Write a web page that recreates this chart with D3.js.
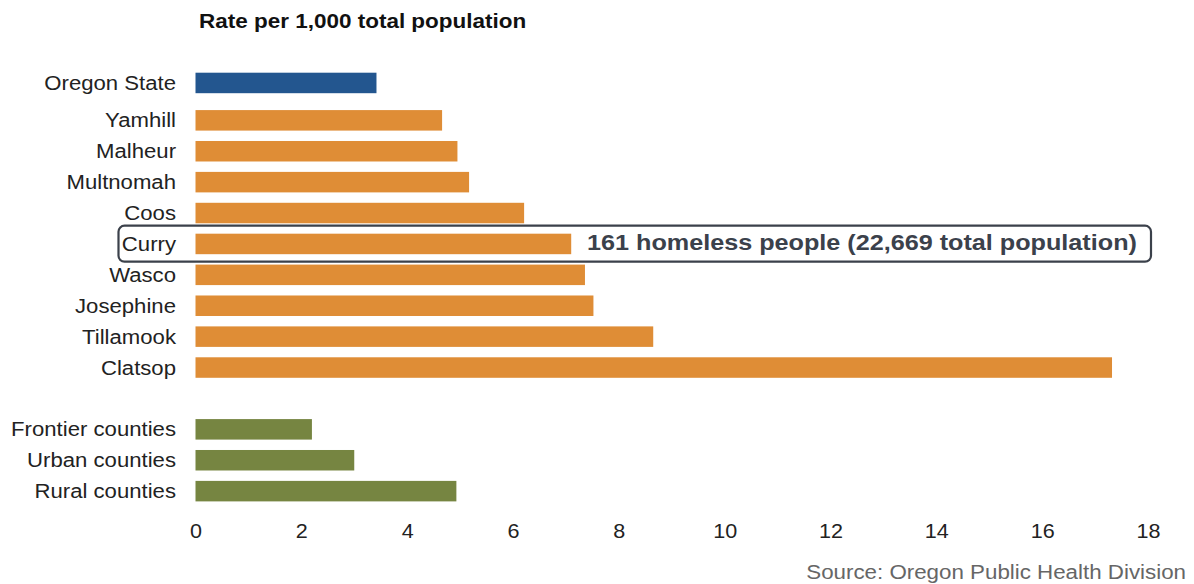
<!DOCTYPE html>
<html>
<head>
<meta charset="utf-8">
<script src="https://cdn.jsdelivr.net/npm/d3@7"></script>
<style>
  html, body { margin: 0; padding: 0; background: #fff; }
  svg text { font-family: "Liberation Sans", Arial, sans-serif; }
</style>
</head>
<body>
<svg id="chart" width="1194" height="584"></svg>
<script>
// Homelessness rate per 1,000 total population
const stateNames = ["Oregon State"];
const stateValues = [3.42];

const countyNames = ["Yamhill", "Malheur", "Multnomah", "Coos", "Curry", "Wasco", "Josephine", "Tillamook", "Clatsop"];
const countyValues = [4.66, 4.95, 5.17, 6.21, 7.10, 7.36, 7.52, 8.65, 17.32];

const typeNames = ["Frontier counties", "Urban counties", "Rural counties"];
const typeValues = [2.20, 3.00, 4.93];

const xTicks = [0, 2, 4, 6, 8, 10, 12, 14, 16, 18];

const calloutName = "Curry";
const calloutText = "161 homeless people (22,669 total population)";

const titleText = "Rate per 1,000 total population";
const sourceText = "Source: Oregon Public Health Division";

// Groups stacked top to bottom, with the extra gap (in rows) before each group
const groups = [
  { names: stateNames, values: stateValues, color: "#23568f", gapBefore: 0 },
  { names: countyNames, values: countyValues, color: "#df8d36", gapBefore: 0.21 },
  { names: typeNames, values: typeValues, color: "#768541", gapBefore: 1 }
];

const rows = [];
let slot = 0;
groups.forEach((g, gi) => {
  if (gi > 0) slot += 1 + g.gapBefore;
  g.names.forEach((n, i) => {
    if (i > 0) slot += 1;
    rows.push({ name: n, value: g.values[i], color: g.color, slot });
  });
});

const svg = d3.select("#chart");

const x = d3.scaleLinear().domain([0, 18]).range([195.5, 1148]);
const rowStep = 30.9;
const barH = 20.5;
const y = d3.scaleLinear().domain([0, 1]).range([72.7, 72.7 + rowStep]);

function stretchedText(sel, px, py, sx) {
  return sel.attr("transform", `translate(${px},${py}) scale(${sx},1)`);
}

// Title
stretchedText(svg.append("text"), 199, 28, 1.125)
  .attr("font-size", 20)
  .attr("font-weight", "bold")
  .attr("fill", "#111")
  .text(titleText);

// Callout box around the Curry row
const cRow = rows.find(r => r.name === calloutName);
svg.append("rect")
  .attr("x", 118.5)
  .attr("y", y(cRow.slot) - 8)
  .attr("width", 1151 - 118.5)
  .attr("height", barH + 15.5)
  .attr("rx", 6)
  .attr("fill", "#fff")
  .attr("stroke", "#3b414b")
  .attr("stroke-width", 2.2);

// Bars
svg.append("g").selectAll("rect")
  .data(rows)
  .join("rect")
  .attr("x", x(0))
  .attr("y", d => y(d.slot))
  .attr("width", d => x(d.value) - x(0))
  .attr("height", barH)
  .attr("fill", d => d.color);

// Category labels
svg.append("g").selectAll("text")
  .data(rows)
  .join("text")
  .each(function (d) {
    stretchedText(d3.select(this), 176, y(d.slot) + barH / 2, 1.13);
  })
  .attr("text-anchor", "end")
  .attr("dominant-baseline", "central")
  .attr("font-size", 19.6)
  .attr("fill", "#222")
  .text(d => d.name);

// Callout text
stretchedText(svg.append("text"), 587, y(cRow.slot) + barH / 2 - 2, 1.1)
  .attr("dominant-baseline", "central")
  .attr("font-family", "Roboto, 'Liberation Sans', sans-serif")
  .attr("font-size", 22.9)
  .attr("font-weight", "bold")
  .attr("fill", "#3b414b")
  .text(calloutText);

// X axis (labels only)
const axis = d3.axisBottom(x).tickValues(xTicks).tickSize(0).tickPadding(0);
const ax = svg.append("g").attr("transform", "translate(0,527)").call(axis);
ax.select(".domain").remove();
ax.selectAll(".tick text")
  .attr("font-family", "'Liberation Sans', Arial, sans-serif")
  .attr("font-size", 19.6)
  .attr("fill", "#222")
  .attr("dy", "0.55em")
  .attr("transform", "scale(1.1,1)");

// Source
stretchedText(svg.append("text"), 1186, 572, 1.14)
  .attr("text-anchor", "end")
  .attr("dominant-baseline", "central")
  .attr("font-size", 19.6)
  .attr("fill", "#666")
  .text(sourceText);
</script>
</body>
</html>
